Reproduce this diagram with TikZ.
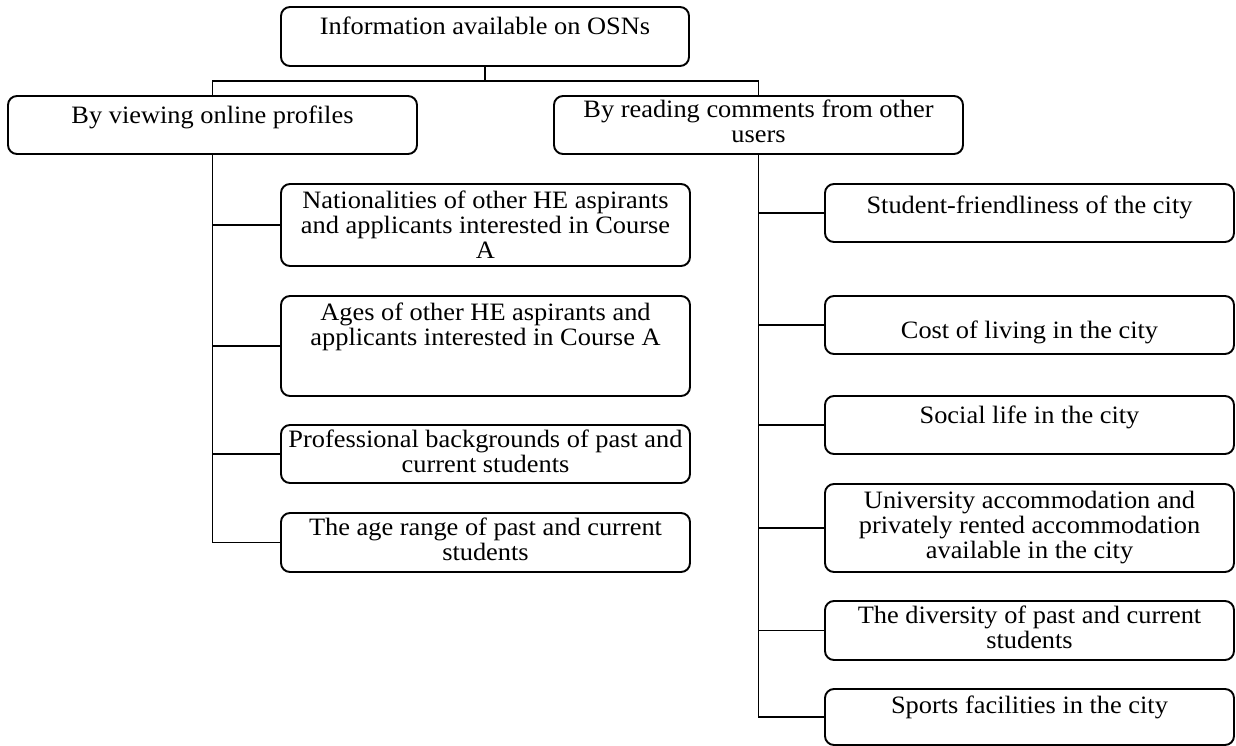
\documentclass[tikz,border=0pt]{standalone}
\usepackage{fontspec}
\setmainfont{Liberation Serif}[FakeStretch=1.055]
\begin{document}
\begin{tikzpicture}[x=1pt,y=-1pt,
  box/.style={draw, line width=1.9pt, rounded corners=9pt, inner sep=0pt,
    minimum width=#1},
  box/.default=409pt,
  txt/.style={anchor=base, align=center, inner sep=0pt,
    font=\fontsize{25}{25}\selectfont},
  link/.style={line width=1.9pt}]
\useasboundingbox (0,0) rectangle (1236,746);

% root and the two ways of gathering information
\node[box=408pt, minimum height=59pt] (root) at (485,36.5) {};
\node[box, minimum height=58pt] (prof) at (212.5,125) {};
\node[box, minimum height=58pt] (comm) at (758.5,125) {};

% items found by viewing profiles
\node[box, minimum height=82pt]  (p1) at (485.5,225) {};
\node[box, minimum height=100pt] (p2) at (485.5,346) {};
\node[box, minimum height=58pt]  (p3) at (485.5,454) {};
\node[box, minimum height=59pt]  (p4) at (485.5,542.5) {};

% items found by reading comments
\node[box, minimum height=58pt] (c1) at (1029.5,213) {};
\node[box, minimum height=58pt] (c2) at (1029.5,325) {};
\node[box, minimum height=58pt] (c3) at (1029.5,425) {};
\node[box, minimum height=88pt] (c4) at (1029.5,528) {};
\node[box, minimum height=59pt] (c5) at (1029.5,630.5) {};
\node[box, minimum height=56pt] (c6) at (1029.5,717) {};

% labels (base anchor sits on the last line)
\node[txt] at (485,35)    {Information available on OSNs};
\node[txt] at (212.5,124) {By viewing online profiles};
\node[txt] at (758.5,143) {By reading comments from other\\users};
\node[txt] at (485.5,258) {Nationalities of other HE aspirants\\and applicants interested in Course\\A};
\node[txt] at (485.5,345) {Ages of other HE aspirants and\\applicants interested in Course A};
\node[txt] at (485.5,472) {Professional backgrounds of past and\\current students};
\node[txt] at (485.5,560) {The age range of past and current\\students};
\node[txt] at (1029.5,213) {Student-friendliness of the city};
\node[txt] at (1029.5,338) {Cost of living in the city};
\node[txt] at (1029.5,423) {Social life in the city};
\node[txt] at (1029.5,558) {University accommodation and\\privately rented accommodation\\available in the city};
\node[txt] at (1029.5,648) {The diversity of past and current\\students};
\node[txt] at (1029.5,713) {Sports facilities in the city};

% connectors
\coordinate (bus) at (485,81);
\draw[link] (root.south) -- (bus);
\draw[link] (prof.north) |- (bus) -| (comm.north);

\draw[link] (prof.south) |- (p4.west);
\foreach \n in {p1,p2,p3}
  \draw[link] (\n.west) -- (\n.west -| prof.south);

\draw[link] (comm.south) |- (c6.west);
\foreach \n in {c1,c2,c3,c4,c5}
  \draw[link] (\n.west) -- (\n.west -| comm.south);
\end{tikzpicture}
\end{document}
